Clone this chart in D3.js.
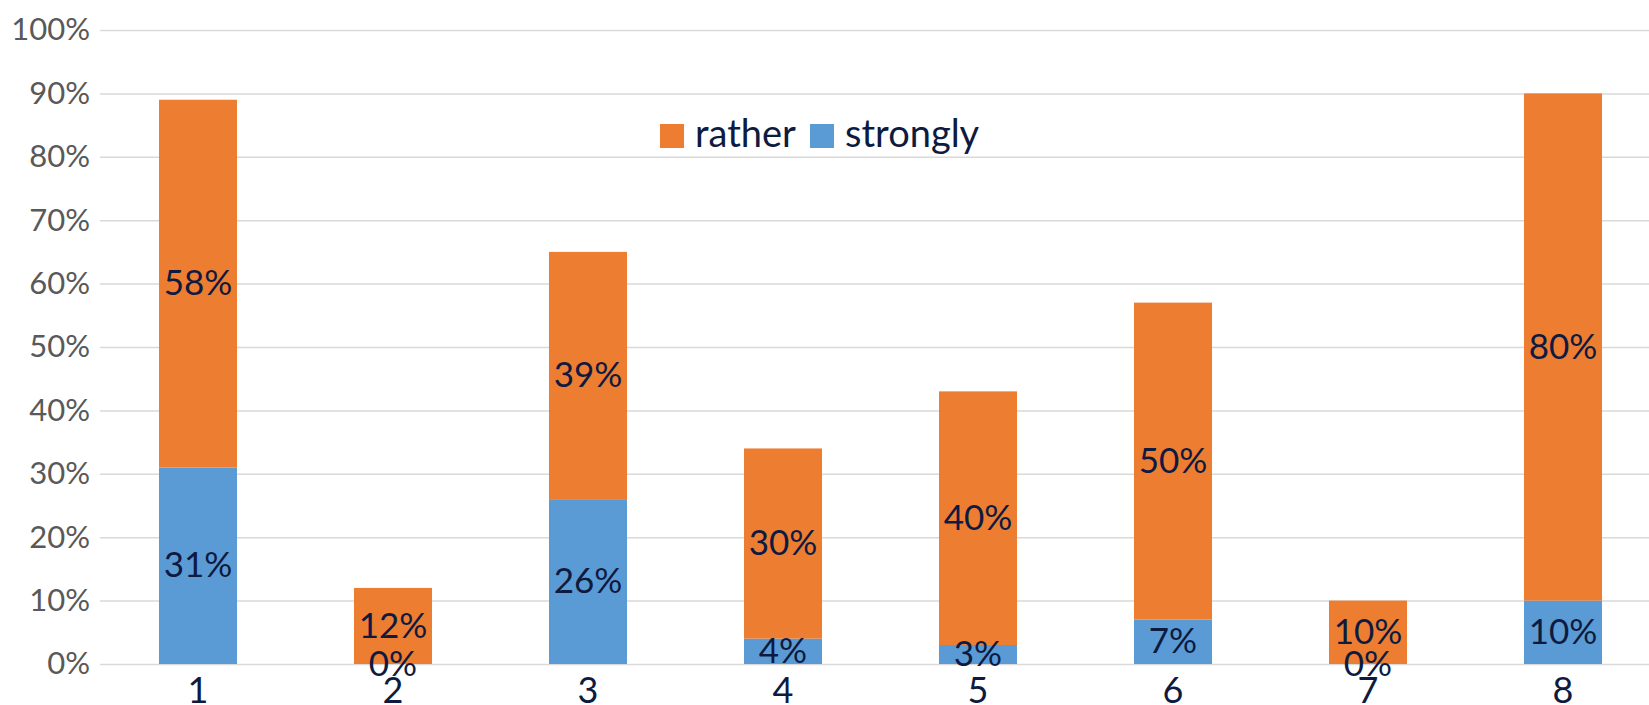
<!DOCTYPE html>
<html>
<head>
<meta charset="utf-8">
<script src="https://cdn.jsdelivr.net/npm/d3@7"></script>
<style>
  body { margin: 0; background: #fff; }
  svg { display: block; font-family: Lato, "Open Sans", sans-serif; }
</style>
</head>
<body>
<div id="holder"></div>
<script>
const w = 1649;
const h = 705;

// DATA
const categories = ["1", "2", "3", "4", "5", "6", "7", "8"];
const strongly = [31, 0, 26, 4, 3, 7, 0, 10];
const rather = [58, 12, 39, 30, 40, 50, 10, 80];
const yTicks = [0, 10, 20, 30, 40, 50, 60, 70, 80, 90, 100];
const seriesNames = ["rather", "strongly"];

const orange = "#ED7D31";
const blue = "#5B9BD5";
const navy = "#0E1A40";

const svg = d3.select("#holder")
    .append("svg")
    .attr("width", w)
    .attr("height", h)

// SCALES
const xScale = d3.scaleBand()
    .domain(categories)
    .range([100.5, 1660.5])
    .paddingInner(0.6)
    .paddingOuter(0.3)

const yScale = d3.scaleLinear()
    .domain([0, 100])
    .range([664, 30])

// GRIDLINES + Y AXIS
const yAxis = d3.axisLeft(yScale)
    .tickValues(yTicks)
    .tickSize(-(w - 100))
    .tickPadding(10)
    .tickFormat(d => d + "%")

const gy = svg.append("g")
    .attr("transform", "translate(100,0)")
    .call(yAxis)

gy.select(".domain").remove()
gy.selectAll(".tick line")
    .attr("stroke", "#D9D9D9")
    .attr("stroke-width", 1.5)
gy.selectAll(".tick text")
    .attr("fill", "#595959")
    .attr("font-size", 31)
    .attr("font-family", "Lato")

// STACKED BARS
const rows = categories.map((c, i) => ({ cat: c, strongly: strongly[i], rather: rather[i] }))
const stack = d3.stack().keys(["strongly", "rather"])(rows)
const colors = { strongly: blue, rather: orange }

const layers = svg.append("g")
    .selectAll("g")
    .data(stack)
    .enter()
    .append("g")
    .attr("fill", d => colors[d.key])

layers.selectAll("rect")
    .data(d => d)
    .enter()
    .append("rect")
    .attr("x", d => xScale(d.data.cat))
    .attr("y", d => yScale(d[1]))
    .attr("width", xScale.bandwidth())
    .attr("height", d => yScale(d[0]) - yScale(d[1]))

// DATA LABELS
const labels = svg.append("g")
for (const layer of stack) {
    labels.selectAll(null)
        .data(layer)
        .enter()
        .append("text")
        .attr("x", d => xScale(d.data.cat) + xScale.bandwidth() / 2)
        .attr("y", d => yScale((d[0] + d[1]) / 2))
        .attr("dy", "0.33em")
        .attr("text-anchor", "middle")
        .attr("fill", navy)
        .attr("font-size", 35)
        .attr("font-family", "Lato")
        .text(d => (d[1] - d[0]) + "%")
}

// X AXIS LABELS
svg.append("g")
    .selectAll("text")
    .data(categories)
    .enter()
    .append("text")
    .attr("x", d => xScale(d) + xScale.bandwidth() / 2)
    .attr("y", 703)
    .attr("text-anchor", "middle")
    .attr("fill", navy)
    .attr("font-size", 36)
    .attr("font-family", "Lato")
    .text(d => d)

// LEGEND
const legendX = [660, 810];
const legend = svg.append("g")
seriesNames.forEach((name, i) => {
    legend.append("rect")
        .attr("x", legendX[i])
        .attr("y", 124)
        .attr("width", 24)
        .attr("height", 24)
        .attr("fill", colors[name])
    legend.append("text")
        .attr("x", legendX[i] + 35)
        .attr("y", 147)
        .attr("fill", navy)
        .attr("font-size", 38)
        .attr("font-family", "Lato")
        .text(name)
})
</script>
</body>
</html>
